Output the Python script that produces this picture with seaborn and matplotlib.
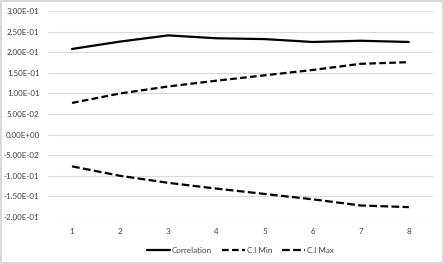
import numpy as np
import pandas as pd
import seaborn as sns
import matplotlib
matplotlib.use("Agg")
import matplotlib.pyplot as plt
from matplotlib.ticker import FuncFormatter

# Data
lags = [1, 2, 3, 4, 5, 6, 7, 8]
correlation = [0.208, 0.226, 0.241, 0.234, 0.232, 0.225, 0.228, 0.225]
ci_min = [0.077, 0.100, 0.117, 0.131, 0.144, 0.157, 0.172, 0.176]
ci_max = [-0.077, -0.100, -0.117, -0.131, -0.144, -0.157, -0.172, -0.176]
y_ticks = [-0.2, -0.15, -0.1, -0.05, 0.0, 0.05, 0.1, 0.15, 0.2, 0.25, 0.3]

df = pd.DataFrame({'lag': lags, 'Correlation': correlation,
                   'C.I Min': ci_min, 'C.I Max': ci_max})

sns.set_style("white")
plt.rcParams['font.family'] = ['Lato', 'DejaVu Sans']

fig = plt.figure(figsize=(4.44, 2.64), dpi=100)
fig.patch.set_edgecolor('#d9d9d9')
fig.patch.set_linewidth(1.5)
ax = fig.add_axes([0.108, 0.178, 0.867, 0.78])

sns.lineplot(data=df, x='lag', y='Correlation', ax=ax, color='black',
             linewidth=1.6, label='Correlation')
sns.lineplot(data=df, x='lag', y='C.I Min', ax=ax, color='black',
             linewidth=1.6, linestyle=(0, (3, 1.5)), label='C.I Min')
sns.lineplot(data=df, x='lag', y='C.I Max', ax=ax, color='black',
             linewidth=1.6, linestyle=(0, (3.5, 1.5)), label='C.I Max')

ax.set_xlim(0.5, 8.5)
ax.set_ylim(-0.2, 0.3)
ax.set_xticks(lags)
ax.set_yticks(y_ticks)
ax.yaxis.set_major_formatter(FuncFormatter(lambda v, p: f"{v:.2E}"))
ax.grid(axis='y', color='#d9d9d9', linewidth=0.8)
ax.set_axisbelow(True)
for s in ax.spines.values():
    s.set_visible(False)
ax.tick_params(axis='both', length=0, labelsize=5.8, colors='#404040', pad=8)
ax.tick_params(axis='y', pad=6)
ax.set_xlabel('')
ax.set_ylabel('')

ax.legend(loc='upper center', bbox_to_anchor=(0.5, -0.11), ncol=3,
          frameon=False, fontsize=5.8, handlelength=2.9, columnspacing=1.2,
          handletextpad=0.2, labelcolor='#404040')

fig.savefig('out.png', dpi=100)
